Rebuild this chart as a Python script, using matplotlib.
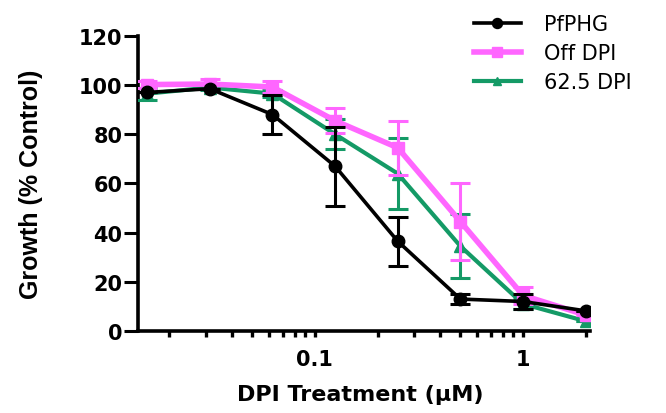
import matplotlib
matplotlib.use("Agg")
import matplotlib.pyplot as plt
from matplotlib.lines import Line2D
from matplotlib.ticker import FixedLocator, NullFormatter, FixedFormatter

conc = [0.015625, 0.03125, 0.0625, 0.125, 0.25, 0.5, 1.0, 2.0]

pfphg = [97.0, 98.5, 88.0, 67.0, 36.5, 13.0, 12.0, 8.2]
pfphg_err = [0.0, 0.0, 8.0, 16.0, 10.0, 2.0, 3.0, 0.0]

off_dpi = [100.2, 100.4, 99.2, 85.5, 74.5, 44.5, 14.5, 6.5]
off_dpi_err = [1.5, 2.0, 2.5, 5.0, 11.0, 15.5, 3.5, 0.0]

dpi_625 = [96.5, 99.0, 96.5, 80.0, 64.0, 34.5, 11.0, 4.0]
dpi_625_err = [2.5, 1.0, 1.5, 6.0, 14.5, 13.0, 2.0, 0.0]

labels = ["PfPHG", "Off DPI", "62.5 DPI"]
colors = ["#000000", "#ff66ff", "#149a66"]

major_ticks = [0.1, 1]
major_labels = ["0.1", "1"]
minor_ticks = [0.02, 0.03, 0.04, 0.05, 0.06, 0.07, 0.08, 0.09,
               0.2, 0.3, 0.4, 0.5, 0.6, 0.7, 0.8, 0.9, 2]
y_ticks = [0, 20, 40, 60, 80, 100, 120]

fig = plt.figure(figsize=(6.66, 4.14), dpi=100)
ax = fig.add_axes([0.207, 0.198, 0.679, 0.713])

styles = [
    dict(marker="o", ms=9, lw=2.6, z=5),
    dict(marker="s", ms=9, lw=4.0, z=4),
    dict(marker="^", ms=8, lw=3.0, z=3),
]
series = [(pfphg, pfphg_err), (off_dpi, off_dpi_err), (dpi_625, dpi_625_err)]

for (vals, errs), st, col, lab in zip(series, styles, colors, labels):
    ax.errorbar(conc, vals, yerr=errs, color=col, lw=st["lw"],
                marker=st["marker"], ms=st["ms"], capsize=7, capthick=2.2,
                elinewidth=2.2, label=lab, zorder=st["z"])

ax.set_xscale("log")
ax.set_xlim(0.0141, 2.1)
ax.set_ylim(0, 120)

ax.xaxis.set_major_locator(FixedLocator(major_ticks))
ax.xaxis.set_major_formatter(FixedFormatter(major_labels))
ax.xaxis.set_minor_locator(FixedLocator(minor_ticks))
ax.xaxis.set_minor_formatter(NullFormatter())
ax.set_yticks(y_ticks)

for s in ["top", "right"]:
    ax.spines[s].set_visible(False)
for s in ["left", "bottom"]:
    ax.spines[s].set_linewidth(2.6)

ax.tick_params(axis="x", which="major", length=4, width=2.4, direction="out", pad=9)
ax.tick_params(axis="x", which="minor", length=4, width=2.4, direction="out")
ax.tick_params(axis="y", which="major", length=10, width=2.2, direction="out", pad=1)

for lab in ax.get_xticklabels() + ax.get_yticklabels():
    lab.set_fontfamily(["DejaVu Sans"])
    lab.set_fontweight("bold")
    lab.set_fontsize(15)

ax.set_xlabel("DPI Treatment (µM)", fontsize=16, fontweight="bold",
              family=["DejaVu Sans"])
ax.xaxis.set_label_coords(0.491, -0.18)
ax.set_ylabel("Growth (% Control)", fontsize=18, fontweight="bold",
              family=["Liberation Sans", "DejaVu Sans"])
ax.yaxis.set_label_coords(-0.21, 0.5)

handles = [Line2D([], [], color=col, lw=st["lw"], marker=st["marker"], ms=st["ms"] * 0.8)
           for st, col in zip(styles, colors)]
fig.legend(handles, labels, loc="upper left", bbox_to_anchor=(0.711, 0.963),
           frameon=False, handlelength=2.3, handletextpad=1.1,
           labelspacing=0.42, borderpad=0, borderaxespad=0,
           prop=dict(family=["DejaVu Sans"], size=15))

fig.savefig("out.png", dpi=100)
